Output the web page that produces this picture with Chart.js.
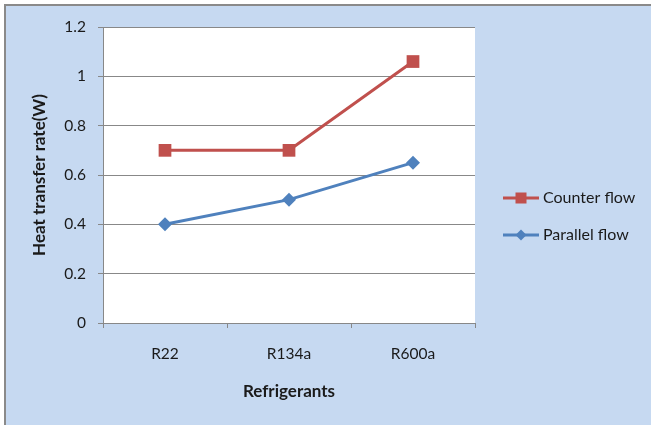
<!DOCTYPE html>
<html>
<head>
<meta charset="utf-8">
<style>
  html, body { margin: 0; padding: 0; background: #ffffff; }
  #wrap { width: 651px; height: 425px; position: relative; }
</style>
<script src="https://cdn.jsdelivr.net/npm/chart.js@4"></script>
</head>
<body>
<div id="wrap"><canvas id="c" width="651" height="425"></canvas></div>
<script>
const categories = ['R22', 'R134a', 'R600a'];
const counterFlow = [0.70, 0.70, 1.06];
const parallelFlow = [0.40, 0.50, 0.65];
const yTicks = [0, 0.2, 0.4, 0.6, 0.8, 1, 1.2];
const xTitle = 'Refrigerants';
const yTitle = 'Heat transfer rate(W)';

const FONT = 'Lato, "Open Sans", sans-serif';
const TXT = '#1a1a1a';
const GRID = '#888888';

// Panel background with the thin grey frame
const panelBg = {
  id: 'panelBg',
  beforeDraw(chart) {
    const ctx = chart.ctx;
    ctx.save();
    ctx.fillStyle = '#ffffff';
    ctx.fillRect(0, 0, chart.width, chart.height);
    ctx.fillStyle = '#c6d9f1';
    ctx.fillRect(5, 5, chart.width - 5, chart.height - 5);
    ctx.strokeStyle = '#8a8a8a';
    ctx.lineWidth = 2;
    ctx.beginPath();
    ctx.moveTo(5, chart.height);
    ctx.lineTo(5, 5);
    ctx.lineTo(chart.width, 5);
    ctx.stroke();
    const a = chart.chartArea;
    ctx.fillStyle = '#ffffff';
    ctx.fillRect(a.left, a.top, a.right - a.left, a.bottom - a.top);
    ctx.restore();
  }
};

// Axis titles placed relative to the plot area
const axisTitles = {
  id: 'axisTitles',
  afterDraw(chart) {
    const ctx = chart.ctx;
    const a = chart.chartArea;
    ctx.save();
    ctx.fillStyle = TXT;
    ctx.font = 'bold 17px ' + FONT;
    ctx.textAlign = 'center';
    ctx.textBaseline = 'middle';
    ctx.fillText(xTitle, (a.left + a.right) / 2, a.bottom + 69);
    ctx.translate(a.left - 63, (a.top + a.bottom) / 2);
    ctx.rotate(-Math.PI / 2);
    ctx.fillText(yTitle, 0, 0);
    ctx.restore();
  }
};

// Legend drawn with line + marker samples
const sideLegend = {
  id: 'sideLegend',
  afterDraw(chart) {
    const ctx = chart.ctx;
    ctx.save();
    const rows = [{ i: 0, y: 198 }, { i: 1, y: 235 }];
    rows.forEach(r => {
      const ds = chart.data.datasets[r.i];
      const x0 = 503, x1 = 539, xm = (x0 + x1) / 2;
      ctx.strokeStyle = ds.borderColor;
      ctx.lineWidth = 3;
      ctx.beginPath();
      ctx.moveTo(x0, r.y);
      ctx.lineTo(x1, r.y);
      ctx.stroke();
      ctx.fillStyle = ds.pointBackgroundColor;
      if (ds.pointStyle === 'rect') {
        ctx.fillRect(xm - 5.5, r.y - 5.5, 11, 11);
      } else {
        ctx.beginPath();
        ctx.moveTo(xm, r.y - 5.5);
        ctx.lineTo(xm + 5.5, r.y);
        ctx.lineTo(xm, r.y + 5.5);
        ctx.lineTo(xm - 5.5, r.y);
        ctx.closePath();
        ctx.fill();
      }
      ctx.fillStyle = TXT;
      ctx.font = '16px ' + FONT;
      ctx.textBaseline = 'middle';
      ctx.textAlign = 'left';
      ctx.fillText(ds.label, 543, r.y);
    });
    ctx.restore();
  }
};

new Chart(document.getElementById('c'), {
  type: 'line',
  data: {
    labels: categories,
    datasets: [
      {
        label: 'Counter flow',
        data: counterFlow,
        borderColor: '#c0504d',
        backgroundColor: '#c0504d',
        pointBackgroundColor: '#c0504d',
        pointBorderColor: '#c0504d',
        pointStyle: 'rect',
        pointRadius: 9,
        pointBorderWidth: 0,
        borderWidth: 3,
        tension: 0
      },
      {
        label: 'Parallel flow',
        data: parallelFlow,
        borderColor: '#4f81bd',
        backgroundColor: '#4f81bd',
        pointBackgroundColor: '#4f81bd',
        pointBorderColor: '#4f81bd',
        pointStyle: 'rectRot',
        pointRadius: 7,
        pointBorderWidth: 0,
        borderWidth: 3,
        tension: 0
      }
    ]
  },
  options: {
    responsive: false,
    animation: false,
    devicePixelRatio: 1,
    layout: { padding: { top: 27, right: 176, bottom: 0, left: 0 } },
    plugins: {
      legend: { display: false },
      tooltip: { enabled: false }
    },
    scales: {
      x: {
        type: 'category',
        offset: true,
        grid: {
          offset: true,
          drawOnChartArea: false,
          drawTicks: true,
          tickLength: 5,
          color: GRID,
          tickColor: GRID
        },
        border: { color: GRID, width: 1 },
        ticks: { color: TXT, font: { family: FONT, size: 15.5 }, padding: 17 },
        afterFit(scale) { scale.height = 425 - 323; }
      },
      y: {
        min: 0,
        max: 1.2,
        afterBuildTicks(scale) { scale.ticks = yTicks.map(v => ({ value: v })); },
        grid: {
          color: GRID,
          tickColor: GRID,
          tickLength: 5,
          drawTicks: true
        },
        border: { color: GRID, width: 1 },
        ticks: {
          color: TXT,
          font: { family: FONT, size: 15.5 },
          padding: 12,
          callback: v => String(Math.round(v * 10) / 10)
        },
        afterFit(scale) { scale.width = 103; }
      }
    }
  },
  plugins: [panelBg, axisTitles, sideLegend]
});
</script>
</body>
</html>
